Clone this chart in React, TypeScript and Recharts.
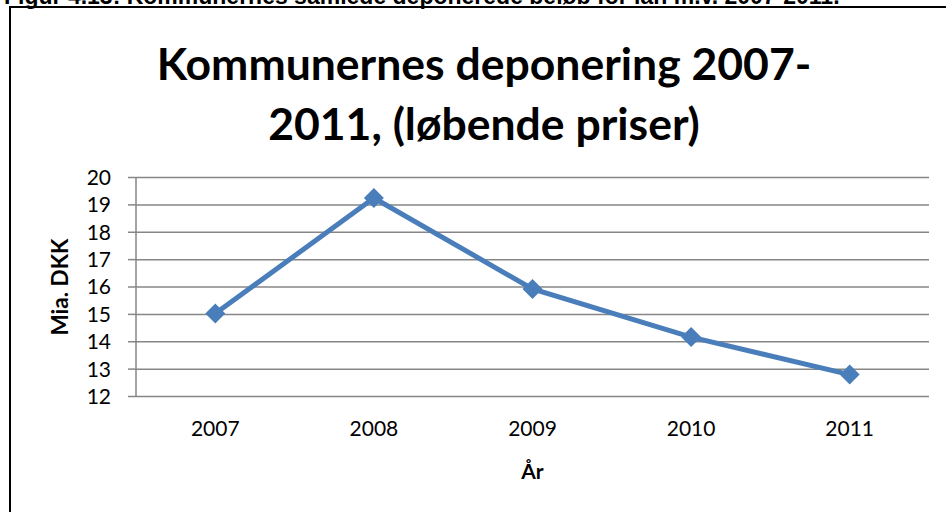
import { LineChart, Line, XAxis, YAxis, CartesianGrid } from 'recharts';

const years = ['2007', '2008', '2009', '2010', '2011'];
const deposits = [15.03, 19.25, 15.93, 14.17, 12.8];
const yTicks = [12, 13, 14, 15, 16, 17, 18, 19, 20];
const edgeTicks = [0, 1, 2, 3, 4, 5];

const caption = 'Figur 4.13: Kommunernes samlede deponerede beløb for lån m.v. 2007-2011.';
const titleLines = ['Kommunernes deponering 2007-', '2011, (løbende priser)'];

const chartData = years.map((year, i) => ({ year, value: deposits[i] }));

const FONT = 'Lato, "Open Sans", sans-serif';
const GRID = '#868686';
const BLUE = '#4a7ebb';

function Diamond(props: any) {
  const { cx, cy } = props;
  if (cx == null || cy == null) return null;
  const r = 10;
  return (
    <polygon
      points={`${cx},${cy - r} ${cx + r},${cy} ${cx},${cy + r} ${cx - r},${cy}`}
      fill={BLUE}
      stroke="none"
    />
  );
}

export default function App() {
  return (
    <div
      style={{
        position: 'fixed',
        left: 0,
        top: 0,
        width: 946,
        height: 512,
        overflow: 'hidden',
        background: '#fff',
      }}
    >
      <div
        style={{
          position: 'absolute',
          left: 4,
          top: -17,
          fontFamily: '"Liberation Sans", Arial, sans-serif',
          fontWeight: 'bold',
          fontSize: 23,
          lineHeight: '26px',
          whiteSpace: 'nowrap',
          color: '#000',
        }}
      >
        {caption}
      </div>
      <div
        style={{
          position: 'absolute',
          left: 9,
          top: 6,
          width: 960,
          height: 520,
          borderLeft: '2px solid #000',
          borderTop: '2px solid #000',
        }}
      />
      <div
        style={{
          position: 'absolute',
          left: 0,
          top: 33,
          width: 968,
          textAlign: 'center',
          fontFamily: FONT,
          fontWeight: 'bold',
          fontSize: 44.5,
          lineHeight: '60px',
          color: '#000',
        }}
      >
        {titleLines.map((t) => (
          <div key={t}>{t}</div>
        ))}
      </div>
      <div style={{ position: 'absolute', left: 0, top: 0 }}>
        <LineChart
          width={946}
          height={512}
          data={chartData}
          margin={{ top: 177.5, right: 17, bottom: 25.5, left: 50 }}
        >
          <CartesianGrid horizontal vertical={false} stroke={GRID} strokeWidth={1.5} />
          <XAxis
            xAxisId="edges"
            type="number"
            domain={[0, 5]}
            ticks={edgeTicks}
            tick={false}
            height={0}
            tickSize={7}
            axisLine={{ stroke: GRID, strokeWidth: 1.5 }}
            tickLine={{ stroke: GRID, strokeWidth: 1.5 }}
          />
          <XAxis
            dataKey="year"
            scale="band"
            height={90}
            axisLine={false}
            tickLine={false}
            tickSize={0}
            tickMargin={25}
            interval={0}
            tick={{ fill: '#000', fontSize: 21, fontFamily: FONT }}
            label={{
              value: 'År',
              position: 'insideBottom',
              offset: 8,
              fill: '#000',
              fontSize: 21,
              fontWeight: 'bold',
              fontFamily: FONT,
            }}
          />
          <YAxis
            domain={[12, 20]}
            ticks={yTicks}
            interval={0}
            width={86}
            tickSize={8}
            tickMargin={17}
            axisLine={{ stroke: GRID, strokeWidth: 1.5 }}
            tickLine={{ stroke: GRID, strokeWidth: 1.5 }}
            tick={{ fill: '#000', fontSize: 21, fontFamily: FONT }}
            label={{
              value: 'Mia. DKK',
              angle: -90,
              position: 'insideLeft',
              offset: 10,
              fill: '#000',
              fontSize: 22.5,
              fontWeight: 'bold',
              fontFamily: FONT,
              style: { textAnchor: 'middle' },
            }}
          />
          <Line
            dataKey="value"
            stroke={BLUE}
            strokeWidth={5}
            dot={<Diamond />}
            activeDot={false}
            isAnimationActive={false}
          />
        </LineChart>
      </div>
    </div>
  );
}
